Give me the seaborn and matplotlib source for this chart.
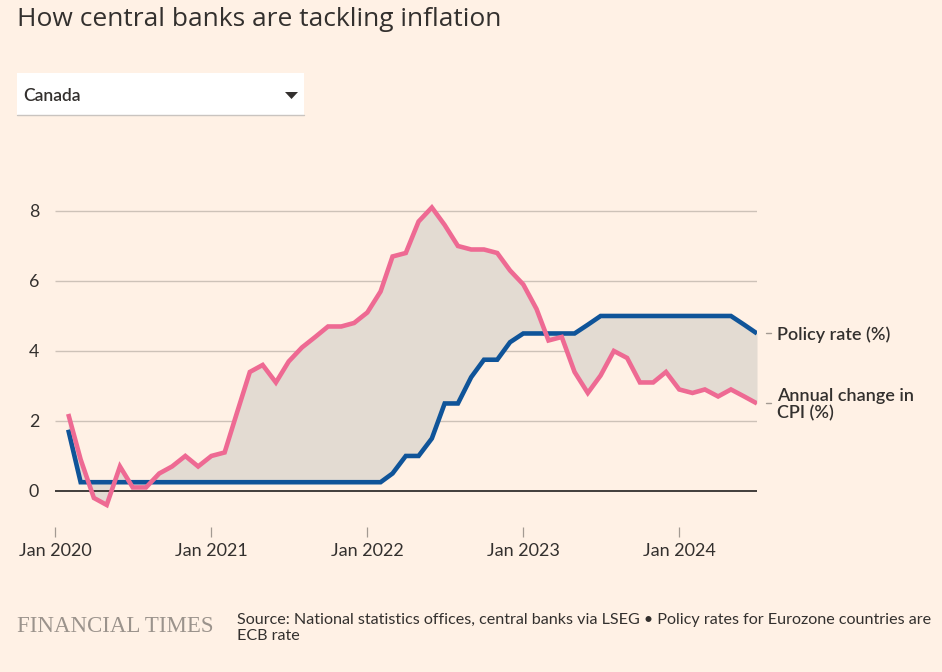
import matplotlib
matplotlib.use("Agg")
import matplotlib.pyplot as plt
import matplotlib.transforms as mtransforms
from matplotlib.patches import Rectangle, Polygon
from matplotlib.lines import Line2D
import numpy as np
import pandas as pd
import seaborn as sns

# ---------------- data ----------------
start_month = "2020-02-01"
cpi = [2.2, 0.9, -0.2, -0.4, 0.7, 0.1, 0.1, 0.5, 0.7, 1.0, 0.7,
       1.0, 1.1, 2.2, 3.4, 3.6, 3.1, 3.7, 4.1, 4.4, 4.7, 4.7, 4.8,
       5.1, 5.7, 6.7, 6.8, 7.7, 8.1, 7.6, 7.0, 6.9, 6.9, 6.8, 6.3,
       5.9, 5.2, 4.3, 4.4, 3.4, 2.8, 3.3, 4.0, 3.8, 3.1, 3.1, 3.4,
       2.9, 2.8, 2.9, 2.7, 2.9, 2.7, 2.5]
policy = [1.75, 0.25, 0.25, 0.25, 0.25, 0.25, 0.25, 0.25, 0.25, 0.25, 0.25,
          0.25, 0.25, 0.25, 0.25, 0.25, 0.25, 0.25, 0.25, 0.25, 0.25, 0.25, 0.25,
          0.25, 0.25, 0.5, 1.0, 1.0, 1.5, 2.5, 2.5, 3.25, 3.75, 3.75, 4.25,
          4.5, 4.5, 4.5, 4.5, 4.5, 4.75, 5.0, 5.0, 5.0, 5.0, 5.0, 5.0,
          5.0, 5.0, 5.0, 5.0, 5.0, 4.75, 4.5]
series_names = ["Policy rate (%)", "Annual change in\nCPI (%)"]
yticks = [0, 2, 4, 6, 8]
xtick_years = [2020, 2021, 2022, 2023, 2024]
country = "Canada"
title = "How central banks are tackling inflation"
source = ("Source: National statistics offices, central banks via LSEG \u2022 Policy rates for Eurozone countries are\n"
          "ECB rate")

dates = pd.date_range(start_month, periods=len(cpi), freq="MS")
df = pd.DataFrame({"date": list(dates) * 2,
                   "value": policy + cpi,
                   "series": ["policy"] * len(policy) + ["cpi"] * len(cpi)})

# ---------------- style ----------------
BG = "#fff1e5"
TXT = "#33302e"
PINK = "#ee6a93"
BLUE = "#0f5499"
FILL = "#e3dbd2"
GRID = "#cdc2b8"

sns.set_theme(style="white")
plt.rcParams["font.family"] = ["Lato", "DejaVu Sans"]

W, H = 942, 672
fig = plt.figure(figsize=(W / 100, H / 100), dpi=100, facecolor=BG)

def fx(px):
    return px / W

def fy(py):
    return 1 - py / H

ax_l, ax_r, ax_t, ax_b = 55, 757, 176, 527
ax = fig.add_axes([fx(ax_l), fy(ax_b), fx(ax_r - ax_l), (ax_b - ax_t) / H])
ax.set_facecolor(BG)

ax.fill_between(dates, cpi, policy, color=FILL, linewidth=0, interpolate=True, zorder=1)
for y in yticks[1:]:
    ax.axhline(y, color=GRID, lw=1.0, zorder=0.5)
ax.axhline(0, color=TXT, lw=1.3, zorder=2)

sns.lineplot(data=df, x="date", y="value", hue="series", hue_order=["policy", "cpi"],
             palette={"policy": BLUE, "cpi": PINK}, linewidth=3.3, legend=False, ax=ax, zorder=3)
for ln in ax.get_lines():
    ln.set_solid_joinstyle("miter")
    ln.set_solid_capstyle("butt")
    if matplotlib.colors.to_hex(ln.get_color()).lower() == PINK:
        ln.set_zorder(4)

ax.set_xlim(pd.Timestamp("2020-01-01"), pd.Timestamp("2024-07-01"))
ax.set_ylim(-1.03, 9.0)
ax.set_xlabel("")
ax.set_ylabel("")
for s in ax.spines.values():
    s.set_visible(False)

ax.set_yticks(yticks)
ax.set_yticklabels([str(v) for v in yticks])
ax.tick_params(axis="y", length=0, pad=11.5, labelsize=12.8, labelcolor=TXT)
ax.set_xticks([pd.Timestamp(f"{y}-01-01") for y in xtick_years])
ax.set_xticklabels([f"Jan {y}" for y in xtick_years])
ax.tick_params(axis="x", length=7.2, width=0.9, color="#a39a92", pad=4, labelsize=13,
               labelcolor=TXT, direction="out", bottom=True)
ax.grid(False)

# right-side labels
blend = mtransforms.blended_transform_factory(ax.transAxes, ax.transData)
dx0 = 9 / (ax_r - ax_l)
dx1 = 14 / (ax_r - ax_l)
tx = 20 / (ax_r - ax_l)
for val, name in [(policy[-1], series_names[0]), (cpi[-1], series_names[1])]:
    ax.add_line(Line2D([1 + dx0, 1 + dx1], [val, val], transform=blend, color="#a39a92",
                       lw=1.0, clip_on=False))
    ax.text(1 + tx, val - 0.03, name, transform=blend, ha="left", va="center", fontsize=13,
            color=TXT, fontweight="semibold", linespacing=1.1, clip_on=False)

# title
fig.text(fx(17), fy(19), title, ha="left", va="center", fontsize=19, color=TXT,
         family=["Open Sans", "DejaVu Sans"])

# dropdown
fig.add_artist(Rectangle((fx(17), fy(115)), fx(304 - 17), (115 - 73) / H,
                         transform=fig.transFigure, facecolor="white", edgecolor="none"))
fig.add_artist(Line2D([fx(17), fx(304)], [fy(115), fy(115)], transform=fig.transFigure,
                      color="#c9c4c0", lw=1.0))
fig.text(fx(23), fy(96), country, ha="left", va="center", fontsize=12.5, color=TXT,
         fontweight="semibold")
fig.add_artist(Polygon([[fx(285), fy(92)], [fx(298), fy(92)], [fx(291.5), fy(99)]],
                       closed=True, transform=fig.transFigure, facecolor=TXT, edgecolor="none"))

# footer
fig.text(fx(17), fy(627), "FINANCIAL TIMES", ha="left", va="center", fontsize=16.5,
         color="#9b938c", family=["Liberation Serif", "DejaVu Serif"])
fig.text(fx(237), fy(628), source, ha="left", va="center", fontsize=11.6, color=TXT,
         linespacing=1.2)

fig.savefig("out.png", dpi=100, facecolor=BG)
